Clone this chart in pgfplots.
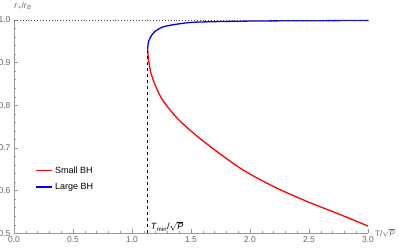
\documentclass[border=0pt]{standalone}
\usepackage{fontspec}
\setmainfont{Liberation Sans}
\usepackage{pgfplots}
\pgfplotsset{compat=1.18}
\definecolor{axgray}{gray}{0.6}
\definecolor{lblgray}{gray}{0.4}
\begin{document}
\begin{tikzpicture}
\begin{axis}[
  name=ax,
  scale only axis, width=354pt, height=213.3pt,
  xmin=0, xmax=3, ymin=0.5, ymax=1.0,
  axis lines=left,
  axis line style={axgray, line width=0.6pt, -},
  xtick={0,0.5,1,1.5,2,2.5,3}, minor x tick num=4,
  ytick={0.5,0.6,0.7,0.8,0.9,1.0}, minor y tick num=4,
  tick align=inside, major tick length=4pt, minor tick length=2.2pt,
  tick style={axgray, line width=0.5pt},
  ticklabel style={font=\fontsize{8.5}{10}\selectfont, text=lblgray},
  /pgf/number format/.cd, fixed, fixed zerofill, precision=1, assume math mode=true,
  /pgfplots/.cd,
  clip=false,
  legend style={at={(rel axis cs:0.058,0.328)}, anchor=north west, draw=none, fill=none,
    font=\fontsize{9}{10}\selectfont, row sep=4.5pt, inner sep=1pt},
  legend cell align=left,
  legend image code/.code={\draw[#1, line width=1.3pt] (0pt,0pt) -- (16pt,0pt);},
]
\addplot[red, line width=1.3pt, smooth] coordinates {
 (1.133,0.931) (1.137,0.915) (1.145,0.898) (1.160,0.876) (1.20,0.845) (1.265,0.810)
 (1.40,0.765) (1.604,0.716) (1.915,0.653) (2.197,0.610) (2.48,0.575) (2.763,0.544) (3.0,0.517)};
\addlegendentry{Small BH}
\addplot[blue, line width=1.3pt, smooth] coordinates {
 (1.133,0.931) (1.137,0.945) (1.153,0.958) (1.19,0.972) (1.265,0.984) (1.4,0.991)
 (1.548,0.995) (2.0,0.9975) (2.5,0.9983) (3.0,0.9988)};
\addlegendentry{Large BH}
\addplot[black!70, dotted, line width=0.9pt, forget plot] coordinates {(0,1) (3,1)};
\addplot[black, dashed, line width=0.8pt, forget plot] coordinates {(1.133,0.5) (1.133,0.931)};
\node[anchor=south west, inner sep=0pt, font=\fontsize{9}{10}\selectfont] at (axis cs:1.133,0.5)
  [xshift=3pt, yshift=2pt] {\textit{T}\textsubscript{min}/$\sqrt{\mbox{\itshape P}}$};
\node[anchor=west, inner sep=0pt, text=lblgray, font=\fontsize{8}{10}\selectfont] at (rel axis cs:1,0)
  [xshift=7pt, yshift=0pt] {T/$\sqrt{\mbox{\itshape P}}$};
\node[anchor=center, inner sep=0pt, text=lblgray, font=\fontsize{8.5}{10}\selectfont] at (rel axis cs:0,1)
  [xshift=9pt, yshift=14pt] {\textit{r}\textsubscript{+}/\textit{r}\textsubscript{\textit{B}}};
\end{axis}
\pgfresetboundingbox
\useasboundingbox ([xshift=-14pt,yshift=-15.7pt]ax.south west) rectangle ([xshift=31pt,yshift=20pt]ax.north east);
\end{tikzpicture}
\end{document}
